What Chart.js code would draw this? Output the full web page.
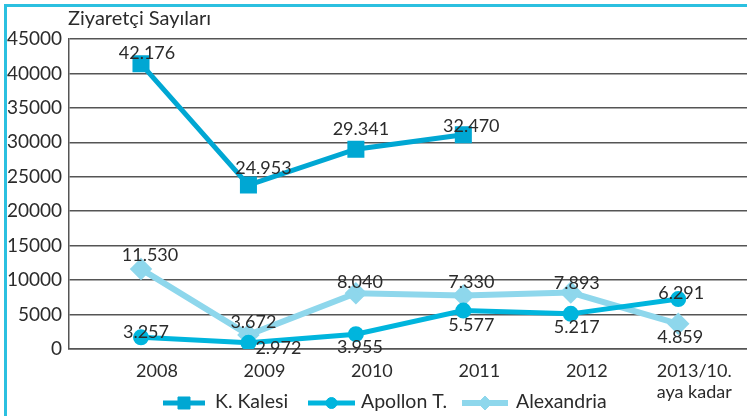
<!DOCTYPE html>
<html lang="tr">
<head>
<meta charset="UTF-8">
<title>Ziyaretçi Sayıları</title>
<style>
    body { margin: 0; padding: 0; background: white; }
    #wrap { width: 747px; height: 416px; }
</style>
<script src="https://cdn.jsdelivr.net/npm/chart.js"></script>
</head>
<body>
<div id="wrap"><canvas id="chart"></canvas></div>
<script>
// categories
const years = ['2008', '2009', '2010', '2011', '2012', ['2013/10.', 'aya kadar']];

// values as plotted in the picture
const kKalesi = [41400, 23800, 29000, 31100];
const apollon = [1700, 900, 2150, 5580, 5100, 7250];
const alexandria = [11600, 2050, 8100, 7750, 8200, 3650];

// printed value labels
const kKalesiText = ['42.176', '24.953', '29.341', '32.470'];
const apollonText = ['3.257', '2.972', '3.955', '5.577', '5.217', '6.291'];
const alexandriaText = ['11.530', '3.672', '8.040', '7.330', '7.893', '4.859'];

const yTicks = [0, 5000, 10000, 15000, 20000, 25000, 30000, 35000, 40000, 45000];

// label offsets from the point (dx, dy)
const labelOffsets = [
    [[6, -11], [15, -17], [5, -20], [8, -9]],
    [[5, -5], [30, 5], [4, 13], [8, 15], [6, 13], [3, -6]],
    [[9, -14], [5, -13], [4, -11], [8, -13], [6, -9], [2, 13]]
];
const labelTexts = [kKalesiText, apollonText, alexandriaText];

const textColor = '#2b2b2b';
const fontFamily = 'Lato, sans-serif';

const toXY = arr => arr.map((v, i) => ({ x: i, y: v }));

const extras = {
    id: 'extras',
    beforeDraw(chart) {
        const ctx = chart.ctx;
        ctx.save();
        ctx.fillStyle = '#2bc0e0';
        ctx.fillRect(4, 4, 3, 412);
        ctx.fillRect(4, 4, 743, 3);
        ctx.fillStyle = textColor;
        ctx.font = '20px ' + fontFamily;
        ctx.textAlign = 'left';
        ctx.textBaseline = 'alphabetic';
        ctx.fillText('Ziyaretçi Sayıları', 68, 25);
        ctx.restore();
    },
    afterDatasetsDraw(chart) {
        const ctx = chart.ctx;
        ctx.save();
        ctx.fillStyle = textColor;
        ctx.font = '18px ' + fontFamily;
        ctx.textAlign = 'center';
        ctx.textBaseline = 'middle';
        chart.data.datasets.forEach((ds, d) => {
            chart.getDatasetMeta(d).data.forEach((pt, i) => {
                const off = labelOffsets[d][i];
                ctx.fillText(labelTexts[d][i], pt.x + off[0], pt.y + off[1]);
            });
        });

        // legend
        const items = [[163, 205, 215], [308, 355, 361], [462, 508, 516]];
        const ly = 403;
        chart.data.datasets.forEach((ds, d) => {
            const it = items[d];
            ctx.strokeStyle = ds.borderColor;
            ctx.lineWidth = ds.borderWidth;
            ctx.beginPath();
            ctx.moveTo(it[0], ly);
            ctx.lineTo(it[1], ly);
            ctx.stroke();
            ctx.fillStyle = ds.pointBackgroundColor;
            ctx.strokeStyle = ds.pointBackgroundColor;
            ctx.lineWidth = 1;
            Chart.helpers.drawPoint(ctx, { pointStyle: ds.pointStyle, radius: ds.pointRadius, rotation: 0, borderWidth: 1 }, (it[0] + it[1]) / 2, ly);
            ctx.fillStyle = textColor;
            ctx.font = '19.5px ' + fontFamily;
            ctx.textAlign = 'left';
            ctx.textBaseline = 'middle';
            ctx.fillText(ds.label, it[2], ly - 1);
        });
        ctx.restore();
    }
};

new Chart(document.getElementById('chart'), {
    type: 'line',
    data: {
        datasets: [
            {
                label: 'K. Kalesi',
                data: toXY(kKalesi),
                borderColor: '#00a7d3',
                backgroundColor: '#00a7d3',
                pointBackgroundColor: '#00a7d3',
                pointBorderColor: '#00a7d3',
                borderWidth: 5,
                pointStyle: 'rect',
                pointRadius: 8.5,
                order: 2
            },
            {
                label: 'Apollon T.',
                data: toXY(apollon),
                borderColor: '#00b5dd',
                backgroundColor: '#00b5dd',
                pointBackgroundColor: '#00b5dd',
                pointBorderColor: '#00b5dd',
                borderWidth: 5,
                pointStyle: 'circle',
                pointRadius: 5.5,
                order: 1
            },
            {
                label: 'Alexandria',
                data: toXY(alexandria),
                borderColor: '#8ed7ec',
                backgroundColor: '#8ed7ec',
                pointBackgroundColor: '#8ed7ec',
                pointBorderColor: '#8ed7ec',
                borderWidth: 6,
                pointStyle: 'rectRot',
                pointRadius: 7,
                order: 3
            }
        ]
    },
    options: {
        responsive: true,
        maintainAspectRatio: false,
        animation: false,
        layout: { autoPadding: false, padding: { top: 39, left: 0, right: 0, bottom: 0 } },
        elements: { line: { tension: 0, fill: false } },
        scales: {
            x: {
                type: 'linear',
                min: -0.67,
                max: 5.64,
                afterBuildTicks: s => { s.ticks = years.map((_, i) => ({ value: i })); },
                afterFit: s => { s.height = 67; },
                grid: { display: false, drawTicks: false },
                border: { display: true, color: '#555', width: 1.5 },
                ticks: {
                    padding: 11,
                    labelOffset: 16,
                    color: textColor,
                    font: { family: fontFamily, size: 18 },
                    maxRotation: 0,
                    autoSkip: false,
                    callback: v => years[v]
                }
            },
            y: {
                min: 0,
                max: 45000,
                afterBuildTicks: s => { s.ticks = yTicks.map(v => ({ value: v })); },
                afterFit: s => { s.width = 69; },
                grid: { color: '#555', lineWidth: 1.5, drawTicks: false },
                border: { display: true, color: '#555', width: 1.5 },
                ticks: {
                    padding: 7,
                    color: textColor,
                    font: { family: fontFamily, size: 19 },
                    callback: v => String(v)
                }
            }
        },
        plugins: {
            legend: { display: false },
            tooltip: { enabled: false }
        }
    },
    plugins: [extras]
});
</script>
</body>
</html>
